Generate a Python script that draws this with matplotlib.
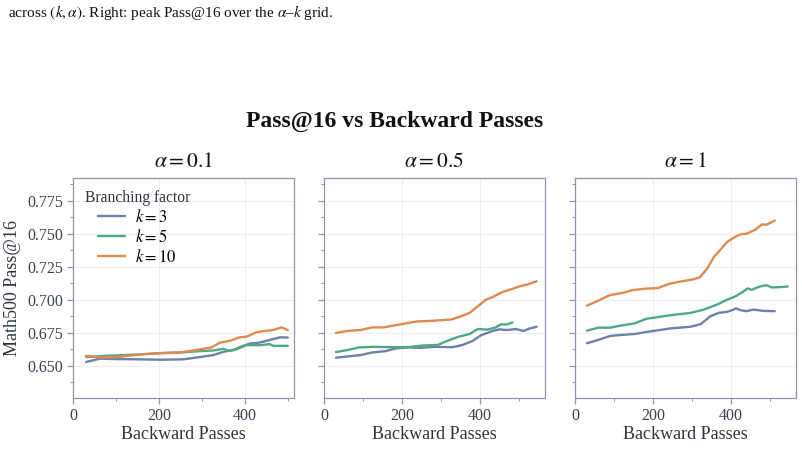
import matplotlib
matplotlib.use("Agg")
import matplotlib.pyplot as plt
from matplotlib.ticker import MultipleLocator, FormatStrFormatter

plt.rcParams['font.family'] = ['Liberation Serif', 'DejaVu Serif']
plt.rcParams['mathtext.fontset'] = 'stix'

# ---------------- data ----------------
alphas = ["0.1", "0.5", "1"]
ks = ["3", "5", "10"]
colors = ["#6e81a8", "#4fa985", "#de8a50"]

# alpha = 0.1
a01_k3_x = [30, 62, 101, 155, 202, 256, 295, 326, 350, 373, 396, 412, 435, 458, 482, 500]
a01_k3_y = [0.6528, 0.6553, 0.6550, 0.6548, 0.6545, 0.6548, 0.6565, 0.6580, 0.6605, 0.6620,
            0.6650, 0.6668, 0.6675, 0.6695, 0.6715, 0.6713]
a01_k5_x = [30, 78, 117, 155, 202, 249, 295, 326, 350, 365, 381, 404, 435, 458, 466, 500]
a01_k5_y = [0.6565, 0.6575, 0.6580, 0.6585, 0.6595, 0.6600, 0.6610, 0.6615, 0.6628, 0.6610,
            0.6625, 0.6655, 0.6655, 0.6663, 0.6650, 0.6650]
a01_k10_x = [30, 62, 101, 155, 202, 249, 280, 303, 322, 342, 365, 388, 404, 427, 450, 466, 485, 500]
a01_k10_y = [0.6575, 0.6563, 0.6565, 0.6585, 0.6595, 0.6600, 0.6615, 0.6628, 0.6638, 0.6675,
             0.6688, 0.6715, 0.6720, 0.6753, 0.6765, 0.6770, 0.6790, 0.6770]

# alpha = 0.5
a05_k3_x = [30, 59, 93, 123, 157, 182, 212, 246, 284, 330, 356, 381, 402, 432, 449, 470, 491, 512, 525, 545]
a05_k3_y = [0.6560, 0.6570, 0.6580, 0.6600, 0.6610, 0.6630, 0.6638, 0.6635, 0.6643, 0.6640,
            0.6658, 0.6688, 0.6730, 0.6763, 0.6775, 0.6770, 0.6778, 0.6763, 0.6780, 0.6795]
a05_k5_x = [30, 59, 89, 127, 169, 212, 254, 292, 313, 343, 373, 394, 419, 440, 453, 470, 483]
a05_k5_y = [0.6603, 0.6618, 0.6638, 0.6643, 0.6640, 0.6640, 0.6653, 0.6658, 0.6685, 0.6718,
            0.6740, 0.6778, 0.6773, 0.6790, 0.6813, 0.6813, 0.6828]
a05_k10_x = [30, 59, 93, 123, 152, 199, 237, 280, 326, 347, 373, 394, 415, 432, 457, 479, 500, 521, 545]
a05_k10_y = [0.6748, 0.6763, 0.6770, 0.6790, 0.6790, 0.6815, 0.6835, 0.6840, 0.6850, 0.6870,
             0.6900, 0.6950, 0.7000, 0.7020, 0.7058, 0.7078, 0.7100, 0.7115, 0.7140]

# alpha = 1
a1_k3_x = [30, 59, 89, 119, 152, 182, 212, 246, 296, 322, 347, 368, 390, 407, 412, 424, 440, 457, 483, 512]
a1_k3_y = [0.6670, 0.6695, 0.6725, 0.6733, 0.6740, 0.6755, 0.6768, 0.6783, 0.6795, 0.6815,
           0.6875, 0.6900, 0.6908, 0.6925, 0.6935, 0.6920, 0.6913, 0.6925, 0.6915, 0.6913]
a1_k5_x = [30, 59, 89, 119, 152, 182, 212, 246, 296, 330, 364, 390, 411, 428, 442, 453, 474, 491, 504, 525, 545]
a1_k5_y = [0.6765, 0.6788, 0.6788, 0.6805, 0.6820, 0.6855, 0.6868, 0.6883, 0.6900, 0.6925,
           0.6963, 0.7000, 0.7025, 0.7055, 0.7085, 0.7075, 0.7100, 0.7110, 0.7093, 0.7095, 0.7100]
a1_k10_x = [30, 59, 89, 119, 148, 178, 212, 241, 271, 301, 320, 339, 356, 373, 390, 407, 424,
            440, 462, 479, 491, 512]
a1_k10_y = [0.6955, 0.6993, 0.7035, 0.7050, 0.7073, 0.7083, 0.7088, 0.7120, 0.7138, 0.7153,
            0.7170, 0.7238, 0.7325, 0.7380, 0.7438, 0.7470, 0.7495, 0.7500, 0.7530, 0.7570,
            0.7568, 0.7600]

panels = [
    [(a01_k3_x, a01_k3_y), (a01_k5_x, a01_k5_y), (a01_k10_x, a01_k10_y)],
    [(a05_k3_x, a05_k3_y), (a05_k5_x, a05_k5_y), (a05_k10_x, a05_k10_y)],
    [(a1_k3_x, a1_k3_y), (a1_k5_x, a1_k5_y), (a1_k10_x, a1_k10_y)],
]
xmaxes = [514, 566, 566]

# ---------------- figure ----------------
W, H = 802, 459
fig = plt.figure(figsize=(W / 100, H / 100), dpi=100)

spine_c = "#9096a3"
text_c = "#2f3440"
tick_c = "#3c4150"
grid_c = "#eceef1"

lefts = [73.3, 324.3, 575.3]
width = 220.5
top, bottom = 178, 398

axes = []
for i, l in enumerate(lefts):
    ax = fig.add_axes([l / W, 1 - bottom / H, width / W, (bottom - top) / H],
                      sharey=axes[0] if axes else None)
    axes.append(ax)
    for j, (xs, ys) in enumerate(panels[i]):
        ax.plot(xs, ys, color=colors[j], lw=1.7, label=r"$k=%s$" % ks[j],
                solid_capstyle='round', solid_joinstyle='round')
    ax.set_xlim(0, xmaxes[i])
    ax.set_ylim(0.6255, 0.7922)
    ax.xaxis.set_major_locator(MultipleLocator(200))
    ax.xaxis.set_minor_locator(MultipleLocator(100))
    ax.yaxis.set_major_locator(MultipleLocator(0.025))
    ax.yaxis.set_minor_locator(MultipleLocator(0.0125))
    ax.yaxis.set_major_formatter(FormatStrFormatter('%.3f'))
    ax.grid(True, which='major', color=grid_c, lw=0.8)
    ax.set_axisbelow(True)
    for s in ax.spines.values():
        s.set_color(spine_c)
        s.set_linewidth(0.9)
    ax.tick_params(which='major', direction='out', length=4, width=0.9,
                   color=spine_c, labelcolor=tick_c, labelsize=11.5)
    ax.tick_params(which='minor', direction='out', length=2.5, width=0.7, color=spine_c)
    ax.tick_params(axis='both', which='both', top=False, right=False)
    ax.set_xlabel("Backward Passes", fontsize=13, color=text_c, labelpad=1)
    ax.set_title(r"$\alpha=%s$" % alphas[i], fontsize=15.5, color="#111111", pad=8)
    if i > 0:
        ax.tick_params(axis='y', labelleft=False)

axes[0].set_ylabel("Math500 Pass@16", fontsize=13, color=text_c, labelpad=4)
leg = axes[0].legend(title="Branching factor", loc='upper left', frameon=False,
                     fontsize=12, title_fontsize=11.2, handlelength=1.6,
                     borderaxespad=0.3, labelspacing=0.18, handletextpad=0.6,
                     bbox_to_anchor=(0.0, 1.0))
leg.get_title().set_color(text_c)

fig.text(395 / W, 1 - 121 / H, "Pass@16 vs Backward Passes", ha='center', va='center',
         fontsize=17, fontweight='bold', color="#111111")
fig.text(8 / W, 1 - 13 / H, r"across $(k,\alpha)$. Right: peak Pass@16 over the $\alpha$–$k$ grid.",
         ha='left', va='center', fontsize=11, color="#111111")

fig.savefig("out.png", dpi=100)
